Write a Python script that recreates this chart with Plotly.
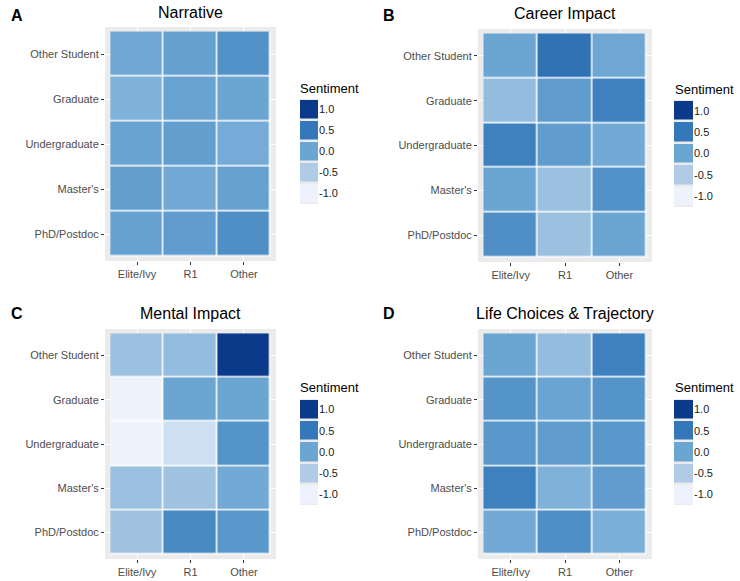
import plotly.graph_objects as go

institutions = ["Elite/Ivy", "R1", "Other"]
levels = ["PhD/Postdoc", "Master's", "Undergraduate", "Graduate", "Other Student"]  # bottom -> top

# rows follow `levels` order (bottom to top), columns follow `institutions`
narrative = [
    [0.05, 0.10, 0.25],
    [0.08, -0.05, 0.05],
    [0.03, 0.08, -0.07],
    [-0.15, 0.03, 0.00],
    [-0.03, 0.06, 0.22],
]
career = [
    [0.25, -0.35, 0.00],
    [0.00, -0.35, 0.22],
    [0.40, 0.10, -0.05],
    [-0.30, 0.10, 0.40],
    [0.00, 0.55, -0.02],
]
mental = [
    [-0.38, 0.30, 0.15],
    [-0.35, -0.38, -0.05],
    [-1.00, -0.75, 0.20],
    [-1.00, 0.00, 0.00],
    [-0.35, -0.30, 1.00],
]
life = [
    [-0.05, 0.25, -0.12],
    [0.40, -0.15, 0.10],
    [0.15, 0.10, 0.15],
    [0.20, 0.02, 0.20],
    [0.00, -0.30, 0.40],
]

panel_titles = ["Narrative", "Career Impact", "Mental Impact", "Life Choices & Trajectory"]
panel_letters = ["A", "B", "C", "D"]
panel_data = [narrative, career, mental, life]

legend_values = [-1.0, -0.5, 0.0, 0.5, 1.0]
legend_labels = ["-1.0", "-0.5", "0.0", "0.5", "1.0"]
legend_title = "Sentiment"

colorscale = [
    [0.0, "#edf2fc"],
    [0.25, "#afcbe6"],
    [0.5, "#6ba6d3"],
    [0.75, "#3478b9"],
    [1.0, "#0b3a8a"],
]

W, H = 740, 581
def px(x):
    return x / W
def py(y):
    return 1 - y / H

# layout geometry (pixels)
panels = [
    dict(x0=105, x1=276, y0=27, y1=261, lx0=300, lx1=318, ly0=99, ly1=204, tx=190, ty=13, ax=9, ay=15, stx=298, sty=88),
    dict(x0=478, x1=652, y0=29, y1=262, lx0=674, lx1=693, ly0=100, ly1=207, tx=565, ty=14, ax=381, ay=15, stx=673, sty=90),
    dict(x0=105, x1=276, y0=329, y1=559, lx0=300, lx1=318, ly0=399, ly1=505, tx=190, ty=313, ax=9, ay=313, stx=298, sty=388),
    dict(x0=478, x1=652, y0=329, y1=559, lx0=674, lx1=693, ly0=399, ly1=505, tx=565, ty=313, ax=381, ay=313, stx=673, sty=388),
]

fig = go.Figure()
layout = dict(
    width=W, height=H,
    margin=dict(l=0, r=0, t=0, b=0),
    paper_bgcolor="white",
    plot_bgcolor="#ebebeb",
    font=dict(family="Liberation Sans, Arial, sans-serif", color="#4d4d4d", size=11),
    showlegend=False,
)
annotations = []
shapes = []

for i, (data, title, letter, g) in enumerate(zip(panel_data, panel_titles, panel_letters, panels)):
    main = 2 * i + 1
    leg = 2 * i + 2
    xa = "x" if main == 1 else f"x{main}"
    ya = "y" if main == 1 else f"y{main}"
    fig.add_trace(go.Heatmap(
        z=data, x=institutions, y=levels,
        xaxis=xa, yaxis=ya,
        colorscale=colorscale, zmin=-1, zmax=1,
        showscale=False, xgap=1.5, ygap=1.5,
        hoverinfo="skip",
    ))
    layout[f"xaxis{main}"] = dict(
        domain=[px(g["x0"]), px(g["x1"])], anchor=ya,
        range=[-0.6, len(institutions) - 0.4],
        type="category", categoryorder="array", categoryarray=institutions,
        showgrid=True, gridcolor="white", gridwidth=1.2, zeroline=False,
        ticks="outside", ticklen=3, tickcolor="#333333", tickwidth=1,
        tickfont=dict(size=11, color="#4d4d4d"), showline=False, fixedrange=True,
    )
    layout[f"yaxis{main}"] = dict(
        domain=[py(g["y1"]), py(g["y0"])], anchor=xa,
        range=[-0.6, len(levels) - 0.4],
        type="category", categoryorder="array", categoryarray=levels,
        showgrid=True, gridcolor="white", gridwidth=1.2, zeroline=False,
        ticks="outside", ticklen=3, tickcolor="#333333", tickwidth=1,
        tickfont=dict(size=11, color="#4d4d4d"), showline=False, fixedrange=True,
    )
    shapes.append(dict(
        type="rect", xref=xa, yref=ya,
        x0=-0.5, x1=len(institutions) - 0.5, y0=-0.5, y1=len(levels) - 0.5,
        fillcolor="white", line=dict(width=0), layer="between",
    ))

    # legend swatches as a small heatmap
    lxa = f"x{leg}"
    lya = f"y{leg}"
    fig.add_trace(go.Heatmap(
        z=[[v] for v in legend_values], x=[legend_title], y=legend_labels,
        xaxis=lxa, yaxis=lya,
        colorscale=colorscale, zmin=-1, zmax=1,
        showscale=False, ygap=2.5,
        hoverinfo="skip",
    ))
    layout[f"xaxis{leg}"] = dict(
        domain=[px(g["lx0"]), px(g["lx1"])], anchor=lya,
        showgrid=False, zeroline=False, showticklabels=False, ticks="",
        showline=False, fixedrange=True,
    )
    layout[f"yaxis{leg}"] = dict(
        domain=[py(g["ly1"]), py(g["ly0"])], anchor=lxa, side="right",
        type="category", categoryorder="array", categoryarray=legend_labels,
        showgrid=False, zeroline=False, ticks="", showline=False,
        tickfont=dict(size=11, color="#1a1a1a"), fixedrange=True,
    )

    annotations.append(dict(
        text=title, xref="paper", yref="paper", x=px(g["tx"]), y=py(g["ty"]),
        xanchor="center", yanchor="middle", showarrow=False,
        font=dict(size=16, color="#000000"),
    ))
    annotations.append(dict(
        text=f"<b>{letter}</b>", xref="paper", yref="paper", x=px(g["ax"]), y=py(g["ay"]),
        xanchor="left", yanchor="middle", showarrow=False,
        font=dict(size=16, color="#000000"),
    ))
    annotations.append(dict(
        text=legend_title, xref="paper", yref="paper", x=px(g["stx"]), y=py(g["sty"]),
        xanchor="left", yanchor="middle", showarrow=False,
        font=dict(size=13, color="#000000"),
    ))

layout["annotations"] = annotations
layout["shapes"] = shapes
fig.update_layout(**layout)
fig.write_html(
    "out.html",
    config={"displayModeBar": False},
    post_script="document.body.style.margin='0';document.body.style.overflow='hidden';",
)
